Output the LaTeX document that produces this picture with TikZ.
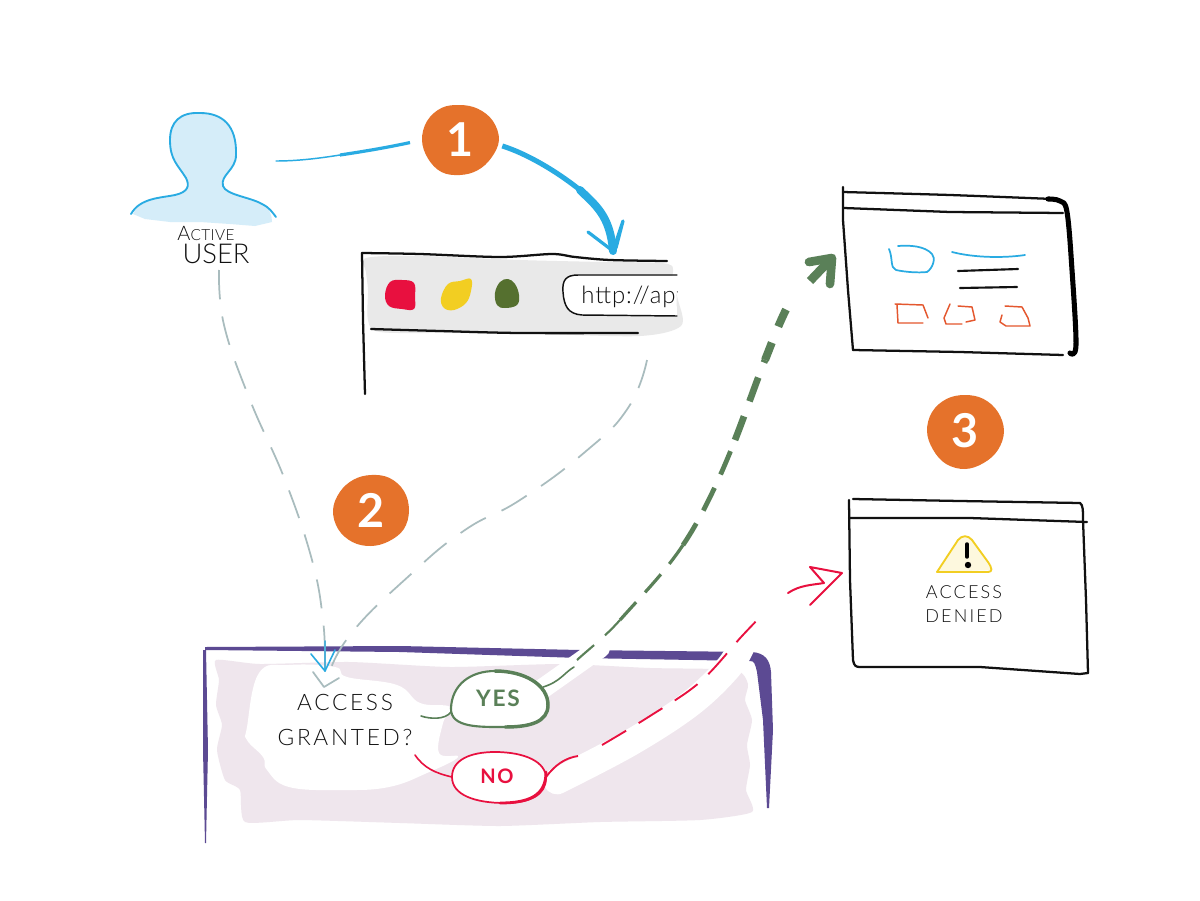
\documentclass[tikz,border=0pt]{standalone}
\usepackage{fontspec}
\setmainfont{Lato}[UprightFont=* Light,BoldFont=* Bold]
\newfontfamily\markfont{Lato}[UprightFont=* Bold]
\usetikzlibrary{calc}
\definecolor{cblue}{HTML}{29ABE2}
\definecolor{corange}{HTML}{E5722B}
\definecolor{cbox}{HTML}{E4572E}
\definecolor{cred}{HTML}{E8103F}
\definecolor{cyellow}{HTML}{F2CE22}
\definecolor{cdgreen}{HTML}{55702F}
\definecolor{cgreen}{HTML}{5A8058}
\definecolor{cpurple}{HTML}{5C4A93}
\definecolor{cgray}{HTML}{A9BCBE}
\definecolor{cwash}{HTML}{E9E9E9}
\definecolor{cuser}{HTML}{D5EDF9}
\definecolor{cpink}{HTML}{EFE6ED}
\definecolor{cink}{HTML}{111111}
\tikzset{
  ink/.style={draw=cink,line width=1.7pt,line cap=round,line join=round},
  inkthin/.style={draw=cink,line width=1.1pt,line cap=round,line join=round},
  badgeblob/.style={fill=corange},
  badgetext/.style={text=white,font=\markfont\fontsize{35}{35}\selectfont,inner sep=0pt,minimum width=57pt,minimum height=53pt},
  anchorbox/.style={inner sep=0pt,outer sep=0pt},
  graydash/.style={draw=cgray,line width=1.3pt,dash pattern=on 22pt off 13pt},
  graytip/.style={draw=cgray,line width=1.3pt,line join=round,line cap=round},
  reddash/.style={draw=cred,line width=1.4pt,dash pattern=on 21pt off 11pt},
  halo/.style={draw=white,line cap=round,line join=round},
  hand/.style={text=cink,inner sep=0pt,align=center},
  handtext/.style={hand,font=\fontsize{17}{25}\selectfont\addfontfeatures{LetterSpace=12}},
  pilllabel/.style={inner sep=0pt,font=\bfseries\fontsize{17}{17}\selectfont\addfontfeatures{LetterSpace=8}},
  orangebox/.style={draw=cbox,line width=1.1pt,line cap=round,line join=round},
}
\begin{document}
\begin{tikzpicture}[x=0.75pt,y=-0.75pt]
\useasboundingbox (0,0) rectangle (1200,900);
\fill[white] (0,0) rectangle (1200,900);

% ---------- user
\fill[cuser] (133,214) .. controls (140,198) and (160,198) .. (175,195) .. controls (188,192) and (190,186) .. (186,178) .. controls (178,165) and (170,160) .. (170,140) .. controls (170,122) and (180,112) .. (200,113) .. controls (222,113) and (237,125) .. (236,155) .. controls (236,170) and (220,175) .. (223,186) .. controls (226,195) and (250,197) .. (262,204) .. controls (270,208) and (272,216) .. (272,222) -- (255,226) -- (230,224) -- (200,222) -- (170,222) -- (145,219) -- cycle;
\draw[draw=cblue,line width=1.4pt,line cap=round,line join=round] (131,214) .. controls (140,198) and (160,198) .. (175,195) .. controls (188,192) and (190,186) .. (186,178) .. controls (178,165) and (170,160) .. (170,140) .. controls (170,122) and (180,112) .. (200,113) .. controls (222,113) and (237,125) .. (236,155) .. controls (236,170) and (220,175) .. (223,186) .. controls (226,195) and (250,197) .. (262,204) .. controls (270,208) and (272,212) .. (276,217);
\node[anchorbox,minimum width=146pt*.75,minimum height=110pt*.75] (usr) at (203,161) {};
\node[hand,font=\fontsize{15}{15}\selectfont\addfontfeatures{LetterSpace=3}] (lblactive) at (206,233) {A{\fontsize{11.5}{12}\selectfont CTIVE}};
\node[hand,font=\fontsize{20.5}{21}\selectfont] (lbluser) at (216,254) {USER};

% ---------- browser
\fill[cwash] plot[smooth cycle,tension=.5] coordinates {(366,258) (420,256) (520,260) (600,262) (668,264) (672,280) (678,300) (681,326) (640,336) (540,334) (450,333) (380,332) (368,320) (368,290) (366,272)};
\node[anchorbox,minimum width=318pt*.75,minimum height=142pt*.75] (brw) at (522,322) {};
\draw[ink] plot[smooth,tension=.5] coordinates {(362,253) (420,254) (500,257) (552,254) (575,257) (610,260) (667,261)};
\draw[ink] (362,253) -- (363,320) -- (365,394);
\draw[ink] plot[smooth,tension=.5] coordinates {(371,329) (440,331) (520,333) (638,333)};
\fill[white] (570,276) .. controls (563,278) and (563,282) .. (563,292) .. controls (564,306) and (568,314) .. (582,315) -- (677,317) -- (676,276) -- cycle;
\draw[inkthin] (677,275) -- (578,275) .. controls (566,275) and (562,280) .. (563,292) .. controls (564,306) and (568,314) .. (582,315) -- (677,316);
\begin{scope}
\clip (565,270) rectangle (677,320);
\node[hand,anchor=west,font=\fontsize{18}{18}\selectfont\addfontfeatures{LetterSpace=4}] (url) at (581,297) {http://apt};
\end{scope}
\fill[cred] plot[smooth cycle,tension=.65] coordinates {(385,295) (390,282) (402,280) (414,283) (415,297) (414,309) (402,309) (389,306)};
\fill[cyellow] plot[smooth cycle,tension=.65] coordinates {(441,298) (448,284) (460,281) (471,279) (471,291) (466,303) (454,310) (444,308)};
\fill[cdgreen] plot[smooth cycle,tension=.65] coordinates {(495,293) (500,282) (508,279) (515,284) (519,295) (517,305) (505,308) (497,305)};

% ---------- box with the decision
\fill[cpink] plot[smooth cycle,tension=.35] coordinates {(216,660) (260,664) (350,662) (450,667) (560,664) (650,668) (735,670) (748,684) (745,700) (752,720) (747,745) (750,765) (746,790) (752,812) (700,820) (600,822) (500,826) (400,823) (300,820) (245,822) (240,790) (225,780) (217,750) (222,725) (216,705) (219,680)};
\fill[white] plot[smooth cycle,tension=.7] coordinates {(247,727) (259,673) (289,665) (335,667) (347,677) (397,685) (420,703) (450,707) (443,723) (439,753) (458,757) (427,773) (389,787) (343,790) (289,787) (267,770) (263,757) (247,740)};
\fill[cpurple] (205,647) -- (400,646) -- (580,650) -- (752,652) .. controls (765,653) and (770,660) .. (771,672) -- (773,730) -- (769,808) -- (767,808) -- (763,720) -- (757,672) .. controls (755,663) and (754,661) .. (750,661) -- (580,658) -- (400,652) -- (205,650) -- cycle;
\fill[cpurple] (203,650) -- (206,650) -- (208,750) -- (206,843) -- (205,843) -- (203,750) -- cycle;
\node[anchorbox,minimum width=98pt*.75,minimum height=56pt*.75] (yes) at (498,698) {};
\node[anchorbox,minimum width=94pt*.75,minimum height=52pt*.75] (no) at (499,777) {};
\draw[halo,line width=15pt] (yes.east)++(-5,-9) -- (600,648);
\draw[halo,line width=20pt] plot[smooth,tension=.6] coordinates {(557,781) (630,743) (690,704) (728,668) (742,645)};

\coordinate (decW) at (421,716);
\coordinate (decS) at (415,755);
\draw[draw=cgreen,line width=1.2pt,line cap=round] (decW) .. controls (430,719) and (445,720) .. (451,712);
\draw[draw=cred,line width=1.2pt,line cap=round] (decS) .. controls (424,768) and (435,773) .. (no.west);
\filldraw[fill=white,draw=cgreen,line width=1.6pt,line cap=round] (451,708) .. controls (452,685) and (470,671) .. (495,671) .. controls (525,671) and (548,685) .. (548,705) .. controls (548,722) and (530,727) .. (505,727) .. controls (480,727) and (450,728) .. cycle;
\draw[draw=cgreen,line width=2.6pt,line cap=round] (495,671) .. controls (525,671) and (548,685) .. (548,705) .. controls (548,722) and (530,727) .. (505,727);
\filldraw[fill=white,draw=cred,line width=1.3pt,line cap=round] (452,777) .. controls (452,760) and (470,752) .. (495,752) .. controls (525,752) and (546,762) .. (546,778) .. controls (546,795) and (530,803) .. (505,803) .. controls (475,803) and (452,795) .. cycle;
\draw[draw=cred,line width=2.1pt,line cap=round] (546,772) .. controls (546,795) and (530,803) .. (500,803);
\node[pilllabel,text=cgreen] (yeslbl) at (498,698) {YES};
\node[pilllabel,text=cred,font=\bfseries\fontsize{15}{15}\selectfont\addfontfeatures{LetterSpace=8}] (nolbl) at (497,776) {NO};
\node[handtext] (deci) at (345,720) {ACCESS\\[1pt]GRANTED?};

% ---------- windows
\node[anchorbox,minimum width=235pt*.75,minimum height=165pt*.75] (win) at (960,272) {};
\draw[ink] plot[smooth,tension=.4] coordinates {(843,192) (950,195) (1053,199)};
\draw[draw=black,line width=3.8pt,line cap=round,line join=round] plot[smooth,tension=.6] coordinates {(1048,199) (1060,201) (1067,212) (1072,270) (1076,345) (1070,353)};
\draw[ink] (843,187) -- (843,220) -- (848,290) -- (853,350);
\draw[ink] (853,350) -- (960,352) -- (1063,355);
\draw[ink] (844,208) -- (950,212) -- (1063,213);
\draw[draw=cblue,line width=1.3pt,line cap=round] (889,249) .. controls (893,258) and (890,268) .. (896,270) .. controls (905,272) and (918,273) .. (927,272) .. controls (933,268) and (936,258) .. (932,254) .. controls (925,246) and (910,245) .. (898,246);
\draw[draw=cblue,line width=1.3pt,line cap=round] (952,252) .. controls (975,258) and (1005,258) .. (1025,255);
\draw[inkthin,line width=1.6pt] (958,271) -- (1018,269);
\draw[inkthin,line width=1.6pt] (960,288) -- (1017,287);
\draw[orangebox] (895,304) -- (923,305) -- (928,318) (923,323) -- (898,323) -- (897,305);
\draw[orangebox] (950,304) -- (944,318) -- (946,324) -- (962,324) (966,322) -- (975,320) -- (972,307) -- (958,306);
\draw[orangebox] (1002,315) -- (1000,322) -- (1006,326) -- (1030,326) -- (1028,318) -- (1022,307) -- (1005,306);

\node[anchorbox,minimum width=235pt*.75,minimum height=170pt*.75] (den) at (968,586) {};
\draw[ink] (853,499) -- (960,501) -- (1080,503) .. controls (1083,505) and (1083,510) .. (1083,520) -- (1086,600) -- (1088,673);
\draw[ink] (849,500) -- (850,580) -- (853,660) .. controls (854,666) and (856,667) .. (860,667) -- (980,667) -- (1080,674) -- (1088,673);
\draw[ink] (849,518) -- (970,518) -- (1087,522);
\fill[cyellow!15!white] (937,572) -- (960,537) -- (972,538) -- (992,570) -- cycle;
\draw[draw=cyellow,line width=1.4pt,line join=round,line cap=round] (937,572) -- (958,540) .. controls (962,535) and (968,535) .. (972,540) -- (988,562) .. controls (992,568) and (993,572) .. (988,572) -- cycle;
\draw[draw=black,line width=2.6pt,line cap=round] (967,544) -- (967,557);
\fill[black] (968,565) circle (3.2);
\node[handtext,font=\fontsize{13.5}{18}\selectfont\addfontfeatures{LetterSpace=12}] (deniedlbl) at (964,604) {ACCESS\\DENIED};

% ---------- badges
\fill[badgeblob] plot[smooth cycle,tension=.63] coordinates {([shift={(460,140)}]0:39) ([shift={(460,140)}]30:36) ([shift={(460,140)}]60:35) ([shift={(460,140)}]90:35) ([shift={(460,140)}]120:37) ([shift={(460,140)}]150:37) ([shift={(460,140)}]180:38) ([shift={(460,140)}]210:38) ([shift={(460,140)}]240:37) ([shift={(460,140)}]270:35) ([shift={(460,140)}]300:36) ([shift={(460,140)}]330:38)};
\fill[badgeblob] plot[smooth cycle,tension=.63] coordinates {([shift={(371,510)}]0:38) ([shift={(371,510)}]30:38) ([shift={(371,510)}]60:36) ([shift={(371,510)}]90:36) ([shift={(371,510)}]120:37) ([shift={(371,510)}]150:38) ([shift={(371,510)}]180:38) ([shift={(371,510)}]210:36) ([shift={(371,510)}]240:35) ([shift={(371,510)}]270:35) ([shift={(371,510)}]300:37) ([shift={(371,510)}]330:38)};
\fill[badgeblob] plot[smooth cycle,tension=.63] coordinates {([shift={(965,431)}]0:39) ([shift={(965,431)}]30:38) ([shift={(965,431)}]60:37) ([shift={(965,431)}]90:38) ([shift={(965,431)}]120:38) ([shift={(965,431)}]150:37) ([shift={(965,431)}]180:38) ([shift={(965,431)}]210:38) ([shift={(965,431)}]240:37) ([shift={(965,431)}]270:36) ([shift={(965,431)}]300:37) ([shift={(965,431)}]330:38)};
\node[badgetext] (b1) at (460,140) {1};
\node[badgetext] (b2) at (371,510) {2};
\node[badgetext] (b3) at (965,431) {3};

% ---------- step 1 connector
\coordinate (mid1) at (580,190);
\coordinate (tip1) at (613,251);
\draw[draw=cblue,line width=1.1pt,line cap=round] (usr.east) .. controls (295,161) and (315,159) .. (340,155);
\draw[draw=cblue,line width=2.4pt] (340,155) .. controls (360,152) and (385,148) .. (b1.west) [shorten >=9pt];
\draw[draw=cblue,line width=3.8pt] ($(b1.east)+(4,6)$) .. controls (525,153) and (555,170) .. (mid1);
\draw[draw=cblue,line width=6pt,line cap=round] (mid1) .. controls (595,205) and (610,215) .. (tip1);
\draw[draw=cblue,line width=2.4pt,line cap=round,line join=round] ($(tip1)+(-25,-19)$) -- (tip1) -- ($(tip1)+(10,-30)$) -- ($(tip1)+(3,-3)$);

% ---------- step 2 connectors
\coordinate (tipL) at (325,671);
\coordinate (tipR) at (324,687);
\draw[graydash] plot[smooth,tension=.7] coordinates {(219,270) (224,325) (250,400) (285,480) (312,560) (323,620) (325,665)};
\draw[graytip,draw=cblue!70!cgray] ($(tipL)+(0,-30)$) -- (tipL);
\draw[graytip,draw=cblue,line width=1.2pt] ($(tipL)+(-14,-17)$) -- (tipL) -- ($(tipL)+(10,-21)$);
\draw[graydash] plot[smooth,tension=.8] coordinates {(647,360) (628,408) (585,452) (520,500) (465,530) (410,575) (350,635) (327,680)};
\draw[graytip] ($(tipR)+(-11,-15)$) -- (tipR) -- ($(tipR)+(15,-9)$);

% ---------- yes connector
\coordinate (g1) at (620,620);
\coordinate (g2) at (683,545);
\coordinate (g3) at (735,440);
\coordinate (g4) at (765,360);
\coordinate (g5) at (790,302);
\coordinate (gtip) at (832,258);
\draw[draw=cgreen,line width=1.2pt,line cap=round] (yes.east)++(-4,-11) .. controls (560,682) and (565,672) .. (574,667);
\draw[draw=cgreen,line width=1.6pt,dash pattern=on 17pt off 11pt] (577,660) .. controls (590,648) and (605,637) .. (g1);
\draw[draw=cgreen,line width=2.4pt,dash pattern=on 18pt off 10pt] (g1) .. controls (645,592) and (665,572) .. (g2);
\draw[draw=cgreen,line width=3.6pt,dash pattern=on 19pt off 11pt] (g2) .. controls (702,517) and (720,478) .. (g3);
\draw[draw=cgreen,line width=5pt,dash pattern=on 19pt off 12pt] (g3) .. controls (746,412) and (755,385) .. (g4);
\draw[draw=cgreen,line width=6pt,dash pattern=on 14pt off 13pt] (g4) .. controls (773,340) and (780,320) .. (g5);
\draw[draw=cgreen,line width=6.5pt] (810,281) -- (gtip);
\draw[draw=cgreen,line width=6.5pt,line cap=round,line join=round] (809,262) -- (gtip) -- (830,284);

% ---------- no connector
\coordinate (r1) at (578,756);
\coordinate (rtip) at (842,573);
\draw[draw=cred,line width=1.4pt] (no.east) .. controls (555,765) and (565,758) .. (r1);
\draw[reddash] plot[smooth,tension=.6] coordinates {(602,745) (650,716) (700,682) (742,636) (765,612)};
\draw[draw=cred,line width=1.5pt,line join=round,line cap=round] (788,593) .. controls (800,585) and (812,585) .. (824,583) -- (810,567) -- (rtip) -- (810,605);
\end{tikzpicture}
\end{document}
